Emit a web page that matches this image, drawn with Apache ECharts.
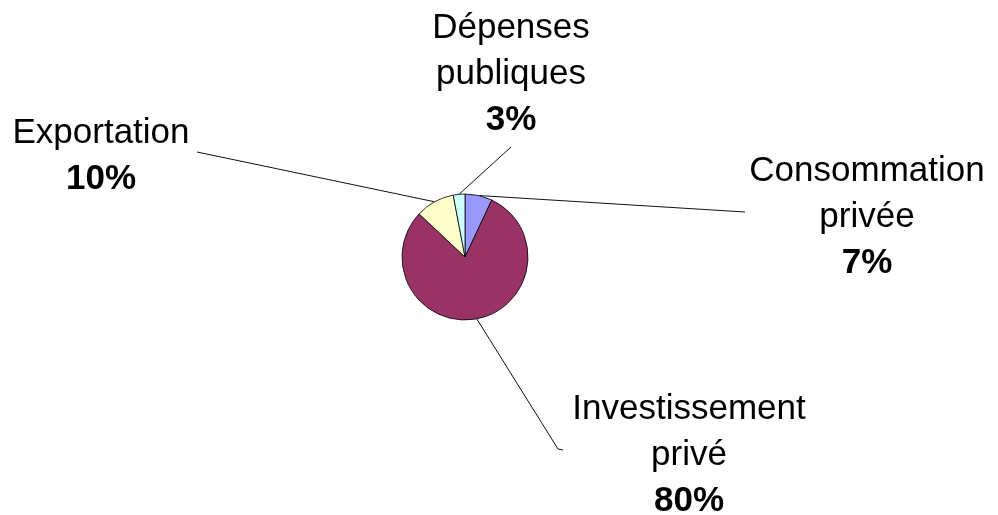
<!DOCTYPE html>
<html><head><meta charset="utf-8">
<script src="https://cdn.jsdelivr.net/npm/echarts@6/dist/echarts.min.js"></script>
<style>html,body{margin:0;padding:0;background:#fff}#c{width:998px;height:515px}</style>
</head><body><div id="c"></div>
<script>
// ---- data ----
const categories = ['Consommation privée', 'Investissement privé', 'Exportation', 'Dépenses publiques'];
const shares = [7, 80, 10, 3];

// ---- styling / layout (kept apart from the data) ----
const sliceColors = ['#9999FF', '#993366', '#FFFFCC', '#CCFFFF'];
// label block centres and leader-line end offsets (relative to the label centre)
const labelPlace = [
  { x: 867, y: 217, ends: [[-122, -5]] },
  { x: 689, y: 455, ends: [[-131, -6], [-126, -5]] },
  { x: 101, y: 156, ends: [[96, -4]] },
  { x: 511, y: 74,  ends: [[0, 73]] }
];

const chart = echarts.init(document.getElementById('c'));
const font = "'Liberation Sans', Arial, sans-serif";
chart.setOption({
  backgroundColor: '#fff',
  animation: false,
  series: [{
    type: 'pie',
    center: [465, 257],
    radius: [0, 63],
    startAngle: 90,
    clockwise: true,
    avoidLabelOverlap: false,
    data: categories.map((c, i) => ({ name: c, value: shares[i], itemStyle: { color: sliceColors[i] } })),
    itemStyle: { borderColor: '#000', borderWidth: 0.8 },
    emphasis: { disabled: true },
    label: {
      show: true,
      position: 'outside',
      formatter: p => p.name.split(' ').map(s => '{n|' + s + '}').join('\n') + '\n{p|' + p.value + '%}',
      rich: {
        n: { fontFamily: font, fontSize: 35, color: '#000', lineHeight: 46, align: 'center' },
        p: { fontFamily: font, fontSize: 35, fontWeight: 'bold', color: '#000', lineHeight: 46, align: 'center' }
      }
    },
    labelLine: { show: true, length: 10, length2: 10, smooth: false, lineStyle: { color: '#111', width: 1 } },
    labelLayout: function (params) {
      const pl = labelPlace[params.dataIndex];
      const start = params.labelLinePoints ? params.labelLinePoints[0] : [0, 0];
      const pts = [start].concat(pl.ends.map(e => [pl.x + e[0], pl.y + e[1]]));
      if (pts.length < 3) pts.push(pts[pts.length - 1].slice());
      return { x: pl.x, y: pl.y, align: 'center', verticalAlign: 'middle', labelLinePoints: pts };
    }
  }]
});
</script></body></html>
